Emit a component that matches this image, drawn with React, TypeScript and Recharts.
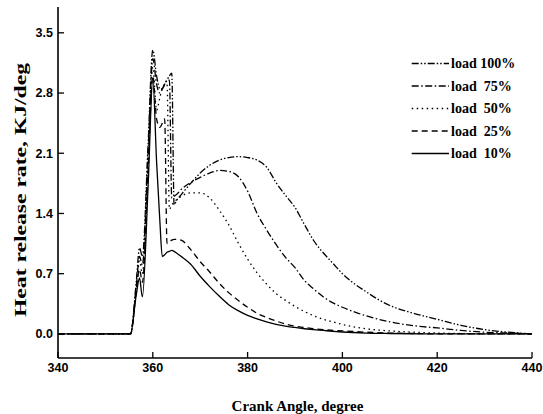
import React from 'react';
import { LineChart, Line, XAxis, YAxis, Legend } from 'recharts';

const angles = [340, 355.3, 356.5, 357.2, 357.8, 359, 360, 360.8, 361.5, 362, 362.5, 363, 363.5, 364, 364.5, 365, 366, 368, 370, 372, 374, 376, 378, 380, 382, 384, 386, 388, 390, 392, 394, 396, 398, 400, 405, 410, 415, 420, 425, 430, 435, 440];
const load10 = [0, 0, 0.45, 0.65, 0.43, 1.7, 2.95, 2.0, 1.3, 0.9, 0.92, 0.95, 0.96, 0.97, 0.96, 0.94, 0.9, 0.81, 0.67, 0.55, 0.44, 0.34, 0.27, 0.215, 0.175, 0.14, 0.11, 0.09, 0.075, 0.06, 0.05, 0.04, 0.03, 0.022, 0.01, 0.005, 0.002, 0, 0, 0, 0, 0];
const load25 = [0, 0, 0.5, 0.75, 0.6, 1.9, 3.0, 2.5, 2.4, 2.45, 2.5, 1.05, 1.07, 1.09, 1.1, 1.1, 1.09, 0.98, 0.84, 0.72, 0.59, 0.48, 0.39, 0.31, 0.24, 0.19, 0.15, 0.115, 0.09, 0.075, 0.06, 0.05, 0.04, 0.035, 0.02, 0.01, 0.005, 0, 0, 0, 0, 0];
const load50 = [0, 0, 0.5, 0.85, 0.7, 2.0, 3.1, 2.6, 2.75, 2.85, 2.9, 2.9, 1.45, 1.5, 1.53, 1.56, 1.6, 1.64, 1.64, 1.58, 1.44, 1.27, 1.06, 0.87, 0.71, 0.58, 0.47, 0.39, 0.32, 0.26, 0.21, 0.17, 0.14, 0.11, 0.06, 0.035, 0.02, 0.01, 0.005, 0, 0, 0];
const load75 = [0, 0, 0.55, 0.9, 0.8, 2.1, 3.2, 2.9, 2.8, 2.85, 2.9, 2.95, 2.95, 1.58, 1.6, 1.62, 1.68, 1.76, 1.82, 1.87, 1.9, 1.89, 1.83, 1.66, 1.4, 1.21, 1.04, 0.89, 0.77, 0.62, 0.52, 0.43, 0.36, 0.31, 0.21, 0.14, 0.095, 0.07, 0.04, 0.02, 0.01, 0];
const load100 = [0, 0, 0.6, 1.0, 0.9, 2.2, 3.3, 3.0, 2.85, 2.85, 2.9, 2.95, 3.0, 3.03, 1.5, 1.55, 1.62, 1.75, 1.87, 1.96, 2.02, 2.05, 2.06, 2.05, 2.02, 1.94, 1.76, 1.61, 1.47, 1.27, 1.08, 0.94, 0.82, 0.7, 0.49, 0.33, 0.24, 0.17, 0.1, 0.05, 0.02, 0];

const seriesNames = ['load 100%', 'load  75%', 'load  50%', 'load  25%', 'load  10%'];
const xTicks = [340, 360, 380, 400, 420, 440];
const yTicks = [0, 0.7, 1.4, 2.1, 2.8, 3.5];
const xTitle = 'Crank Angle, degree';
const yTitle = 'Heat release rate, KJ/deg';

const data = angles.map((a, i) => ({
  angle: a,
  l100: load100[i],
  l75: load75[i],
  l50: load50[i],
  l25: load25[i],
  l10: load10[i],
}));

const SERIES = [
  { key: 'l100', name: seriesNames[0], dash: '7 2 1.5 2 1.5 2' },
  { key: 'l75', name: seriesNames[1], dash: '7 2.5 1.5 2.5' },
  { key: 'l50', name: seriesNames[2], dash: '1.5 3.5' },
  { key: 'l25', name: seriesNames[3], dash: '6 4' },
  { key: 'l10', name: seriesNames[4], dash: undefined as string | undefined },
];

const SERIF = '"Liberation Serif", "Times New Roman", serif';
const SANS = '"Liberation Sans", Arial, sans-serif';

const tickStyle = { fontFamily: SANS, fontWeight: 'bold' as const, fontSize: 12.5, fill: '#000' };

const renderLegend = () => (
  <svg width={130} height={115} style={{ overflow: 'visible', display: 'block' }}>
    {SERIES.map((s, i) => {
      const cy = 13.5 + i * 22.5;
      return (
        <g key={s.key}>
          <line x1={6.7} x2={44} y1={cy} y2={cy} stroke="#000" strokeWidth={1.3} strokeDasharray={s.dash} />
          <text
            x={46}
            y={cy + 4.7}
            fontFamily={SERIF}
            fontWeight="bold"
            fontSize={14}
            fill="#000"
            style={{ whiteSpace: 'pre' }}
          >
            {s.name}
          </text>
        </g>
      );
    })}
  </svg>
);

export default function App() {
  return (
    <div style={{ position: 'absolute', left: 0, top: 0 }}>
      <LineChart
        width={543}
        height={414}
        data={data}
        margin={{ top: 7, right: 11, bottom: 0, left: 0 }}
      >
        <XAxis
          dataKey="angle"
          type="number"
          domain={[340, 440]}
          ticks={xTicks}
          allowDataOverflow
          height={56}
          tickSize={-6}
          tickMargin={11}
          tick={tickStyle}
          axisLine={{ stroke: '#000', strokeWidth: 1.6 }}
          tickLine={{ stroke: '#000', strokeWidth: 1.3 }}
          label={{
            content: () => (
              <text x={297.5} y={411} textAnchor="middle" fontFamily={SERIF} fontWeight="bold" fontSize={15} fill="#000">
                {xTitle}
              </text>
            ),
          }}
        />
        <XAxis
          xAxisId="top"
          orientation="top"
          dataKey="angle"
          type="number"
          domain={[340, 440]}
          height={0}
          tick={false}
          tickLine={false}
          axisLine={{ stroke: '#000', strokeWidth: 1.6 }}
        />
        <YAxis
          type="number"
          domain={[-0.28, 3.8]}
          ticks={yTicks}
          allowDataOverflow
          width={58}
          tickSize={-6}
          tickMargin={11}
          tick={tickStyle}
          tickFormatter={(v: number) => v.toFixed(1)}
          axisLine={{ stroke: '#000', strokeWidth: 1.6 }}
          tickLine={{ stroke: '#000', strokeWidth: 1.3 }}
          label={{
            content: () => (
              <text
                x={26}
                y={190}
                transform="rotate(-90 26 190)"
                textAnchor="middle"
                fontFamily={SERIF}
                fontWeight="bold"
                fontSize={17}
                textLength={254}
                lengthAdjust="spacingAndGlyphs"
                fill="#000"
              >
                {yTitle}
              </text>
            ),
          }}
        />
        <YAxis
          yAxisId="right"
          orientation="right"
          type="number"
          domain={[-0.28, 3.8]}
          width={0}
          tick={false}
          tickLine={false}
          axisLine={{ stroke: '#000', strokeWidth: 1.6 }}
        />
        <Legend
          layout="vertical"
          align="center"
          verticalAlign="middle"
          content={renderLegend}
          wrapperStyle={{ position: 'absolute', left: 405, top: 50, width: 130, height: 115 }}
        />
        {SERIES.slice().reverse().map((s) => (
          <Line
            key={s.key}
            dataKey={s.key}
            name={s.name}
            type="monotone"
            stroke="#000"
            strokeWidth={1.3}
            strokeDasharray={s.dash}
            dot={false}
            activeDot={false}
            isAnimationActive={false}
          />
        ))}
      </LineChart>
    </div>
  );
}
